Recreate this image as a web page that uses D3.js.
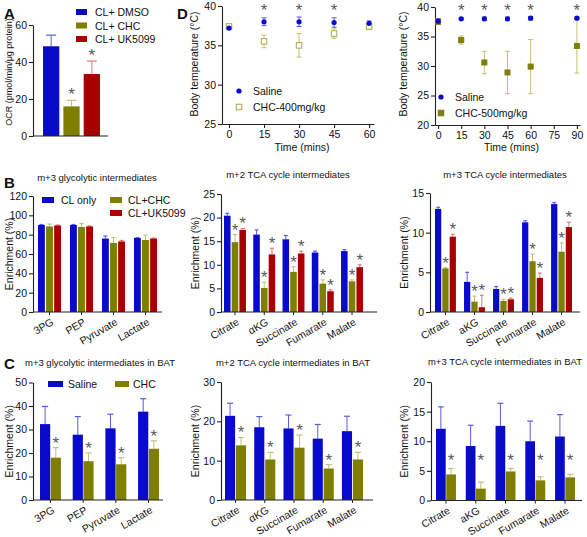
<!DOCTYPE html>
<html><head><meta charset="utf-8">
<script src="https://cdnjs.cloudflare.com/ajax/libs/d3/7.8.5/d3.min.js"></script>
<style>body{margin:0;background:#fff}svg text{font-family:"Liberation Sans",Arial,sans-serif;fill:#111}</style>
</head><body><svg id="c" width="587" height="537"></svg>
<script>
// ---------------- DATA ----------------
const aCats = ["CL+ DMSO", "CL+ CHC", "CL+ UK5099"];
const aMean = [48.5, 16, 33.5];
const aErr = [6, 3.3, 7];
const aStar = [false, true, true];

const bGlyCats = ["3PG", "PEP", "Pyruvate", "Lactate"];
const bSeries = ["CL only", "CL+CHC", "CL+UK5099"];
const bGlyMean = [[90, 90, 76, 76.5], [88.5, 88, 71.5, 74.5], [89.5, 88.5, 73, 76]];
const bGlyErr = [[0.5, 0.5, 2.5, 0.5], [2.5, 3.5, 5.5, 5], [0.5, 0.7, 1, 0.5]];
const bGlyStar = [[0, 0, 0, 0], [0, 0, 0, 0], [0, 0, 0, 0]];

const bM2Cats = ["Citrate", "αKG", "Succinate", "Fumarate", "Malate"];
const bM2Mean = [[20.4, 16.4, 15.4, 12.6, 12.9], [14.8, 5.1, 8.5, 6.0, 6.5], [17.4, 12.2, 12.4, 4.4, 9.5]];
const bM2Err = [[0.5, 1.0, 0.8, 0.3, 0.3], [1.6, 1.2, 1.1, 0.8, 0.3], [0.3, 1.3, 0.5, 0.3, 0.5]];
const bM2Star = [[0, 0, 0, 0, 0], [1, 1, 1, 1, 1], [1, 1, 1, 1, 1]];

const bM3Cats = ["Citrate", "aKG", "Succinate", "Fumarate", "Malate"];
const bM3Mean = [[13.0, 3.8, 2.9, 11.3, 13.6], [5.5, 1.3, 1.4, 6.4, 7.6], [9.5, 0.6, 1.6, 4.3, 10.7]];
const bM3Err = [[0.2, 1.2, 0.3, 0.2, 0.2], [0.1, 0.7, 0.2, 0.9, 1.1], [0.3, 1.5, 0.15, 0.6, 0.6]];
const bM3Star = [[0, 0, 0, 0, 0], [1, 1, 1, 1, 1], [1, 1, 1, 1, 1]];

const cSeries = ["Saline", "CHC"];
const cGlyCats = ["3PG", "PEP", "Pyruvate", "Lactate"];
const cGlyMean = [[32.3, 27.8, 30.5, 37.6], [18, 16.5, 15.2, 21.8]];
const cGlyErr = [[7.5, 7.7, 6, 5.5], [4.3, 3.5, 2.8, 3.4]];
const cGlyStar = [[0, 0, 0, 0], [1, 1, 1, 1]];

const cM2Cats = ["Citrate", "αKG", "Succinate", "Fumarate", "Malate"];
const cM2Mean = [[21.4, 18.5, 18.2, 15.6, 17.5], [13.9, 10.3, 13.3, 8.0, 10.3]];
const cM2Err = [[3.2, 2.7, 3.4, 3.6, 3.8], [2.0, 1.8, 3.2, 1.0, 1.8]];
const cM2Star = [[0, 0, 0, 0, 0], [1, 1, 1, 1, 1]];

const cM3Cats = ["Citrate", "aKG", "Succinate", "Fumarate", "Malate"];
const cM3Mean = [[12.1, 9.2, 12.6, 10.0, 10.8], [4.4, 2.0, 4.9, 3.4, 3.9]];
const cM3Err = [[3.7, 3.5, 3.8, 3.4, 3.7], [1.0, 1.1, 0.5, 0.6, 0.5]];
const cM3Star = [[0, 0, 0, 0, 0], [1, 1, 1, 1, 1]];
const cM3StarLevel = 7.5;

const d1Times = [0, 15, 30, 45, 60];
const d1Saline = [37.2, 38.0, 38.0, 37.9, 37.8];
const d1SalineErr = [0.2, 0.5, 0.6, 0.6, 0.3];
const d1Chc = [37.4, 35.5, 35.0, 36.5, 37.4];
const d1ChcErr = [0.15, 0.8, 1.5, 0.6, 0.4];
const d1StarTimes = [15, 30, 45];
const d1XTicks = [0, 15, 30, 45, 60];
const d1YTicks = [25, 30, 35, 40];

const d2Times = [0, 15, 30, 45, 60, 90];
const d2Saline = [37.6, 38.0, 38.0, 38.0, 38.1, 38.1];
const d2SalineErr = [0.4, 0.2, 0.3, 0.3, 0.3, 0.2];
const d2Chc = [37.5, 34.4, 30.6, 28.9, 29.9, 33.4];
const d2ChcErr = [0.5, 0.7, 1.9, 3.6, 4.6, 4.6];
const d2StarTimes = [15, 30, 45, 60, 90];
const d2XTicks = [0, 15, 30, 45, 60, 75, 90];
const d2YTicks = [20, 25, 30, 35, 40];

// ---------------- STYLE ----------------
const BLUE = "#0a0acb", OLIVE = "#7e7e00", RED = "#a80000";
const BLUE_E = "#5a5ae8", OLIVE_E = "#c2c274", RED_E = "#e07a7a";
const STAR = "#5a5a5a";
const STAR_FS = 17;

const svg = d3.select("#c");

function panelLetter(t, x, y) {
  svg.append("text").attr("x", x).attr("y", y).text(t)
    .attr("font-size", 15).attr("font-weight", "bold");
}
function yLabel(t, x, y, fs) {
  svg.append("text").attr("transform", `translate(${x},${y}) rotate(-90)`)
    .attr("text-anchor", "middle").attr("font-size", fs || 10.5).text(t);
}
function star(x, y) {
  svg.append("text").attr("x", x).attr("y", y).attr("text-anchor", "middle")
    .attr("font-size", STAR_FS).style("fill", STAR).text("*");
}
function yAxis(y, x, ticks) {
  const g = svg.append("g").attr("transform", `translate(${x},0)`)
    .call(d3.axisLeft(y).tickValues(ticks).tickSize(4).tickSizeOuter(0).tickPadding(2));
  g.selectAll("text").attr("font-size", 10.5).style("font-family", "'Liberation Sans',Arial,sans-serif").attr("fill", "#111");
  g.selectAll("line,path").attr("stroke", "#222").attr("stroke-width", 1.1);
  return g;
}

function barPanel(cfg) {
  const y = d3.scaleLinear().domain([0, cfg.yMax]).range([cfg.y0, cfg.yTop]);
  const x0 = d3.scaleBand().domain(cfg.cats).range(cfg.groupRange).paddingInner(cfg.pad).paddingOuter(0);
  const x1 = d3.scaleBand().domain(d3.range(cfg.means.length)).range([0, x0.bandwidth()]).paddingInner(cfg.innerPad);
  const bw = x1.bandwidth();
  cfg.means.forEach((ser, s) => {
    const g = svg.append("g");
    ser.forEach((v, i) => {
      const cx = x0(cfg.cats[i]) + x1(s);
      const top = v + cfg.errs[s][i];
      g.append("line").attr("x1", cx + bw / 2).attr("x2", cx + bw / 2)
        .attr("y1", y(v)).attr("y2", y(top)).attr("stroke", cfg.errColors[s]).attr("stroke-width", 1);
      g.append("line").attr("x1", cx + bw / 2 - bw * 0.3).attr("x2", cx + bw / 2 + bw * 0.3)
        .attr("y1", y(top)).attr("y2", y(top)).attr("stroke", cfg.errColors[s]).attr("stroke-width", 1.2);
      g.append("rect").attr("x", cx).attr("width", bw).attr("y", y(v)).attr("height", y(0) - y(v))
        .attr("fill", cfg.colors[s]);
      if (cfg.stars[s][i]) {
        const sy = cfg.starLevel != null ? y(cfg.starLevel) + 9.5 : y(top) + 1;
        star(cx + bw / 2, sy);
      }
    });
  });
  yAxis(y, cfg.axisX[0], d3.range(0, cfg.yMax + 1e-9, cfg.tickStep));
  svg.append("line").attr("x1", cfg.axisX[0]).attr("x2", cfg.axisX[1]).attr("y1", cfg.y0).attr("y2", cfg.y0)
    .attr("stroke", "#222").attr("stroke-width", 1.1);
  cfg.cats.forEach(c => {
    const cx = x0(c) + x0.bandwidth() / 2;
    svg.append("line").attr("x1", cx).attr("x2", cx).attr("y1", cfg.y0).attr("y2", cfg.y0 + 3).attr("stroke", "#222");
    svg.append("text").attr("transform", `translate(${cx + 3},${cfg.y0 + 9}) rotate(-30)`)
      .attr("text-anchor", "end").attr("dy", "0.35em").attr("font-size", 10.5).text(c);
  });
  if (cfg.title) svg.append("text").attr("x", cfg.titleX).attr("y", cfg.titleY).attr("text-anchor", "middle")
    .attr("font-size", 9.5).text(cfg.title);
  if (cfg.yLab) yLabel(cfg.yLab, cfg.yLabX, (cfg.y0 + cfg.yTop) / 2);
  return { x0, x1, y };
}

function legendItem(x, y, w, h, color, text, tx) {
  svg.append("rect").attr("x", x).attr("y", y - h / 2).attr("width", w).attr("height", h).attr("fill", color);
  svg.append("text").attr("x", tx).attr("y", y + 4).attr("font-size", 10.5).text(text);
}

// ---------------- PANEL A ----------------
{
  const y = d3.scaleLinear().domain([0, 60]).range([136, 25]);
  const x = d3.scaleBand().domain(aCats).range([41, 102]).paddingInner(0.2).paddingOuter(0.1);
  const cols = [BLUE, OLIVE, RED], ecols = [BLUE_E, OLIVE_E, RED_E];
  aCats.forEach((c, i) => {
    const cx = x(c) + x.bandwidth() / 2, top = aMean[i] + aErr[i];
    svg.append("line").attr("x1", cx).attr("x2", cx).attr("y1", y(aMean[i])).attr("y2", y(top)).attr("stroke", ecols[i]);
    svg.append("line").attr("x1", cx - 5).attr("x2", cx + 5).attr("y1", y(top)).attr("y2", y(top)).attr("stroke", ecols[i]).attr("stroke-width", 1.2);
    svg.append("rect").attr("x", x(c)).attr("width", x.bandwidth()).attr("y", y(aMean[i])).attr("height", y(0) - y(aMean[i])).attr("fill", cols[i]);
    if (aStar[i]) star(cx, y(top));
  });
  yAxis(y, 33, [0, 20, 40, 60]);
  svg.append("line").attr("x1", 33).attr("x2", 108).attr("y1", 136).attr("y2", 136).attr("stroke", "#222").attr("stroke-width", 1.1);
  yLabel("OCR (pmol/min/μg protein)", 12, 72, 9);
  legendItem(76, 12, 11, 6, BLUE, aCats[0], 95);
  legendItem(76, 25.5, 11, 6, OLIVE, aCats[1], 95);
  legendItem(76, 39, 11, 6, RED, aCats[2], 95);
  panelLetter("A", 4, 19);
}

// ---------------- PANEL B ----------------
const B3C = [BLUE, OLIVE, RED], B3E = [BLUE_E, OLIVE_E, RED_E];
barPanel({cats: bGlyCats, means: bGlyMean, errs: bGlyErr, stars: bGlyStar, colors: B3C, errColors: B3E,
  groupRange: [38, 157], pad: 0.28, innerPad: 0.15, axisX: [33, 162], y0: 312, yTop: 196, yMax: 120, tickStep: 20,
  title: "m+3 glycolytic intermediates", titleX: 97, titleY: 181, yLab: "Enrichment (%)", yLabX: 13});
legendItem(42, 200, 12, 6, BLUE, bSeries[0], 61);
legendItem(110, 200, 12, 6, OLIVE, bSeries[1], 128);
legendItem(110, 213, 12, 6, RED, bSeries[2], 128);
panelLetter("B", 4, 188);

barPanel({cats: bM2Cats, means: bM2Mean, errs: bM2Err, stars: bM2Star, colors: B3C, errColors: B3E,
  groupRange: [224, 363], pad: 0.25, innerPad: 0.15, axisX: [221, 377], y0: 312, yTop: 194, yMax: 25, tickStep: 5,
  title: "m+2 TCA cycle intermediates", titleX: 288, titleY: 178, yLab: "Enrichment (%)", yLabX: 199});

barPanel({cats: bM3Cats, means: bM3Mean, errs: bM3Err, stars: bM3Star, colors: B3C, errColors: B3E,
  groupRange: [435, 572], pad: 0.28, innerPad: 0.15, axisX: [430, 580], y0: 312, yTop: 193, yMax: 15, tickStep: 5,
  title: "m+3 TCA cycle intermediates", titleX: 505, titleY: 178, yLab: "Enrichment (%)", yLabX: 408});

// ---------------- PANEL C ----------------
const C2C = [BLUE, OLIVE], C2E = [BLUE_E, OLIVE_E];
barPanel({cats: cGlyCats, means: cGlyMean, errs: cGlyErr, stars: cGlyStar, colors: C2C, errColors: C2E,
  groupRange: [40, 159], pad: 0.36, innerPad: 0.05, axisX: [33, 163], y0: 500, yTop: 382.5, yMax: 50, tickStep: 10,
  title: "m+3 glycolytic intermediates in BAT", titleX: 100, titleY: 366, yLab: "Enrichment (%)", yLabX: 13});
legendItem(48, 384, 15, 6, BLUE, cSeries[0], 68);
legendItem(115, 384, 14, 6, OLIVE, cSeries[1], 133);
panelLetter("C", 4, 369);

barPanel({cats: cM2Cats, means: cM2Mean, errs: cM2Err, stars: cM2Star, colors: C2C, errColors: C2E,
  groupRange: [225, 363], pad: 0.28, innerPad: 0.08, axisX: [221, 373], y0: 500, yTop: 382, yMax: 30, tickStep: 10,
  title: "m+2 TCA cycle intermediates in BAT", titleX: 293, titleY: 366, yLab: "Enrichment (%)", yLabX: 199});

barPanel({cats: cM3Cats, means: cM3Mean, errs: cM3Err, stars: cM3Star, starLevel: cM3StarLevel, colors: C2C, errColors: C2E,
  groupRange: [436, 575], pad: 0.33, innerPad: 0.05, axisX: [431, 582], y0: 500.5, yTop: 382, yMax: 20, tickStep: 5,
  title: "m+3 TCA cycle intermediates in BAT", titleX: 505, titleY: 365, yLab: "Enrichment (%)", yLabX: 408});

// ---------------- PANEL D ----------------
function scatterPanel(cfg) {
  const x = d3.scaleLinear().domain(cfg.xDom).range(cfg.xRange);
  const y = d3.scaleLinear().domain(cfg.yDom).range(cfg.yRange);
  const gx = svg.append("g").attr("transform", `translate(0,${cfg.yRange[0]})`)
    .call(d3.axisBottom(x).tickValues(cfg.xTicks).tickSize(4).tickSizeOuter(0).tickPadding(3));
  gx.selectAll("text").attr("font-size", 10.5).style("font-family", "'Liberation Sans',Arial,sans-serif").attr("fill", "#111");
  gx.selectAll("line,path").attr("stroke", "#222").attr("stroke-width", 1.1);
  yAxis(y, cfg.xRange[0], cfg.yTicks);
  svg.append("text").attr("x", (cfg.xRange[0] + cfg.xRange[1]) / 2 + 4).attr("y", 151).attr("text-anchor", "middle")
    .attr("font-size", 10.5).text("Time (mins)");
  yLabel("Body temperature (°C)", cfg.yLabX, 64, 10.5);
  const errs = (vals, e, col) => vals.forEach((v, i) => {
    const cx = x(cfg.times[i]);
    svg.append("line").attr("x1", cx).attr("x2", cx).attr("y1", y(v - e[i])).attr("y2", y(v + e[i])).attr("stroke", col);
    [v - e[i], v + e[i]].forEach(t => svg.append("line").attr("x1", cx - 2.5).attr("x2", cx + 2.5).attr("y1", y(t)).attr("y2", y(t)).attr("stroke", col));
  });
  errs(cfg.chc, cfg.chcErr, OLIVE_E);
  errs(cfg.saline, cfg.salineErr, BLUE_E);
  cfg.chc.forEach((v, i) => {
    const s = cfg.openSq ? 5.5 : 5;
    svg.append("rect").attr("x", x(cfg.times[i]) - s / 2).attr("y", y(v) - s / 2).attr("width", s).attr("height", s)
      .attr("fill", cfg.openSq ? "#fff" : OLIVE).attr("stroke", cfg.openSq ? "#a8a84a" : OLIVE).attr("stroke-width", 1);
  });
  cfg.saline.forEach((v, i) => {
    svg.append("circle").attr("cx", x(cfg.times[i])).attr("cy", y(v)).attr("r", 2.6).attr("fill", BLUE);
  });
  cfg.stars.forEach(t => star(x(t), 16));
  svg.append("circle").attr("cx", cfg.legX).attr("cy", cfg.legY).attr("r", 2.6).attr("fill", BLUE);
  svg.append("text").attr("x", cfg.legX + 14).attr("y", cfg.legY + 4).attr("font-size", 10.5).text("Saline");
  svg.append("rect").attr("x", cfg.legX - 2.75).attr("y", cfg.legY + 16 - 2.75).attr("width", 5.5).attr("height", 5.5)
    .attr("fill", cfg.openSq ? "#fff" : OLIVE).attr("stroke", cfg.openSq ? "#a8a84a" : OLIVE);
  svg.append("text").attr("x", cfg.legX + 14).attr("y", cfg.legY + 20).attr("font-size", 10.5).text(cfg.chcName);
}

scatterPanel({times: d1Times, saline: d1Saline, salineErr: d1SalineErr, chc: d1Chc, chcErr: d1ChcErr, stars: d1StarTimes,
  xTicks: d1XTicks, yTicks: d1YTicks, xDom: [-3, 62.1], xRange: [222, 374], yDom: [25, 40], yRange: [124, 6],
  openSq: true, chcName: "CHC-400mg/kg", legX: 239, legY: 91, yLabX: 198});
scatterPanel({times: d2Times, saline: d2Saline, salineErr: d2SalineErr, chc: d2Chc, chcErr: d2ChcErr, stars: d2StarTimes,
  xTicks: d2XTicks, yTicks: d2YTicks, xDom: [-2, 92], xRange: [435, 580], yDom: [20, 40], yRange: [125, 7],
  openSq: false, chcName: "CHC-500mg/kg", legX: 441, legY: 97, yLabX: 407});
panelLetter("D", 177, 19);
</script></body></html>
